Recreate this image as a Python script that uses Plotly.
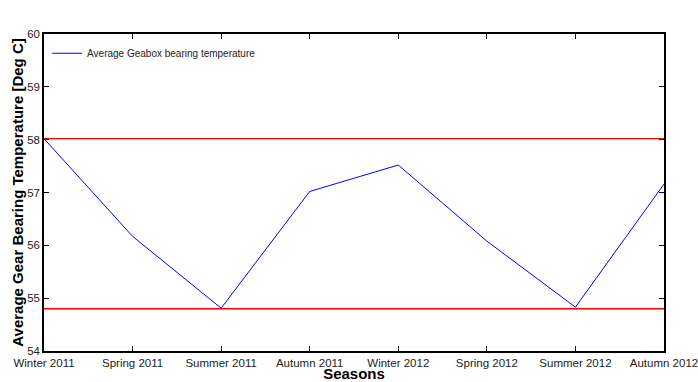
import plotly.graph_objects as go

# Seasonal averages of the gearbox bearing temperature
seasons = ["Winter 2011", "Spring 2011", "Summer 2011", "Autumn 2011",
           "Winter 2012", "Spring 2012", "Summer 2012", "Autumn 2012"]
avg_temp = [58.02, 56.17, 54.81, 57.02, 57.52, 56.08, 54.83, 57.16]

# Upper and lower reference limits
upper_limit = 58.02
lower_limit = 54.80

y_ticks = [54, 55, 56, 57, 58, 59, 60]

font_family = "Liberation Sans, Arial, sans-serif"

fig = go.Figure()

fig.add_trace(go.Scatter(
    x=list(range(len(seasons))), y=avg_temp, mode="lines",
    line=dict(color="#0000ff", width=1),
    name="Average Geabox bearing temperature",
))

for limit in (upper_limit, lower_limit):
    fig.add_trace(go.Scatter(
        x=[0, len(seasons) - 1], y=[limit, limit], mode="lines",
        line=dict(color="#ff0000", width=1.4),
        showlegend=False, hoverinfo="skip",
    ))

axis_common = dict(
    showgrid=False, zeroline=False, showline=True, mirror="ticks",
    linecolor="black", linewidth=1.5, ticks="inside", ticklen=5,
    tickcolor="black", tickwidth=1, automargin=False,
    ticklabeloverflow="allow",
    tickfont=dict(family=font_family, size=11.5, color="#222"),
)

fig.update_xaxes(
    **axis_common,
    range=[0, len(seasons) - 1],
    tickvals=list(range(len(seasons))), ticktext=seasons,
    title=dict(text="<b>Seasons</b>", standoff=0,
               font=dict(family=font_family, size=15, color="black")),
)
fig.update_yaxes(
    **axis_common,
    range=[54, 60], tickvals=y_ticks,
    title=dict(text="<b>Average Gear Bearing Temperature [Deg C]</b>", standoff=0,
               font=dict(family=font_family, size=15, color="black")),
)

fig.update_layout(
    width=698, height=382,
    margin=dict(l=44, r=34, t=34, b=31),
    paper_bgcolor="white", plot_bgcolor="white",
    font=dict(family=font_family, color="black"),
    legend=dict(x=0.005, y=0.985, xanchor="left", yanchor="top",
                bgcolor="rgba(0,0,0,0)", itemwidth=30,
                font=dict(family=font_family, size=10, color="#222")),
)

fig.write_html("out.html")
